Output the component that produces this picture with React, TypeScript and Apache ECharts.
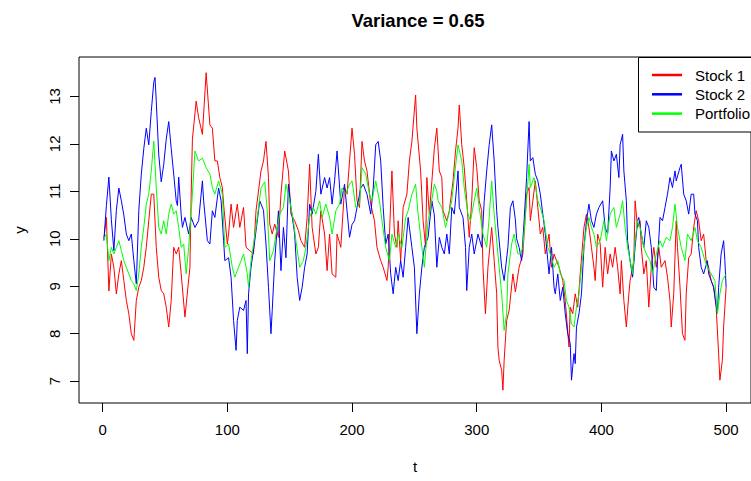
import React, { useEffect, useRef } from "react";
import * as echarts from "echarts";

const xTicks = [0, 100, 200, 300, 400, 500];
const yTicks = [7, 8, 9, 10, 11, 12, 13];

const stock1T = [1,3,5,7,9,11,13,15,17,19,21,23,25,27,29,31,33,35,37,39,41,43,45,47,49,51,53,55,57,59,61,63,66,70,71,72,75,77,80,83,86,88,90,92,94,96,97,100,101,103,105,108,110,113,115,118,121,123,127,129,131,133,134,136,138,141,143,146,149,151,154,157,159,162,164,166,168,171,173,175,178,180,182,184,187,188,191,194,196,200,202,204,206,208,210,212,215,218,220,223,225,228,229,232,234,236,237,239,241,244,246,248,251,252,255,257,259,260,262,264,266,268,270,272,273,276,278,281,283,285,286,288,290,292,294,296,298,300,302,304,305,307,309,312,314,316,317,318,320,321,322,324,326,329,331,334,337,340,342,343,345,347,349,351,353,355,358,360,362,364,366,369,371,374,375,377,379,381,383,386,388,390,392,394,395,397,399,401,403,405,407,409,411,413,415,416,418,420,422,423,426,427,429,431,432,434,436,438,440,442,444,446,448,451,453,455,456,458,460,461,463,465,467,468,470,472,474,476,478,480,482,484,486,488,490,492,494,495,497,498,500];
const stock1V = [10.0,10.45,8.9,9.68,9.4,8.84,9.26,9.54,9.12,8.7,8.42,8.0,7.86,8.7,8.98,9.12,9.4,9.82,10.38,10.94,10.94,9.82,9.19,8.91,8.84,8.56,8.14,8.7,9.82,9.68,9.82,9.26,8.35,9.4,10.94,12.1,12.9,12.55,12.2,13.5,12.4,12.33,11.64,11.64,11.29,11.08,10.73,9.89,10.1,10.73,10.24,10.73,10.24,10.66,9.82,9.75,9.68,10.59,11.43,11.64,12.05,11.29,10.31,10.1,10.31,10.03,10.94,11.85,11.43,10.52,10.38,10.17,9.96,9.82,10.45,11.57,10.24,9.68,9.82,10.59,10.1,9.33,10.1,9.26,9.19,10.1,9.82,11.08,10.94,12.33,11.78,10.8,10.66,12.05,11.64,11.43,10.73,10.38,9.82,9.54,9.4,9.12,9.4,11.43,10.1,9.82,10.38,9.54,10.66,10.94,11.64,12.05,13.03,12.33,11.43,10.38,9.82,11.29,10.52,11.2,11.9,12.33,11.43,11.29,10.59,10.38,10.59,11.22,11.85,12.33,12.82,11.98,11.5,10.8,10.03,10.8,11.92,11.5,10.8,10.59,9.4,8.42,9.4,10.24,9.54,8.84,7.72,7.44,7.23,6.81,7.44,8.28,8.49,9.26,8.88,9.4,9.68,10.94,11.08,10.38,10.8,11.22,10.66,10.1,10.24,9.68,10.1,9.4,9.68,9.54,9.4,9.12,8.7,7.72,8.56,8.42,8.84,8.56,9.26,10.24,10.52,10.24,9.82,9.4,9.12,10.1,9.9,8.98,9.82,9.26,9.68,9.4,9.82,9.4,8.84,9.54,8.7,8.14,8.84,9.12,9.54,10.8,10.24,10.38,9.82,9.26,9.54,8.56,9.4,9.82,9.4,9.82,9.4,9.54,9.19,8.7,8.14,8.84,10.38,9.82,9.0,8.0,7.86,8.84,9.6,9.68,10.24,10.59,10.38,9.96,10.1,9.54,9.4,9.12,8.98,8.56,7.58,7.02,7.44,8.14,8.98];

const stock2T = [1,3,5,7,9,11,13,15,17,19,21,23,25,27,29,31,33,35,37,39,41,42,43,45,47,49,51,53,55,57,59,60,61,63,64,66,69,71,74,77,80,81,84,86,88,90,93,95,97,98,101,103,105,107,108,110,113,115,116,117,119,122,126,129,131,133,135,136,138,141,143,145,147,149,151,154,156,158,160,162,164,166,168,171,173,175,178,180,182,184,186,188,191,194,196,198,200,202,204,207,209,212,215,217,219,221,223,225,227,229,231,233,235,237,239,241,243,245,248,250,252,254,256,258,261,264,266,268,270,272,274,276,278,280,282,285,286,289,291,292,294,296,298,301,304,306,308,310,312,314,316,317,320,322,325,327,329,331,332,334,336,338,340,342,343,345,347,349,351,353,355,357,358,360,362,363,365,367,369,371,373,375,376,378,379,380,382,384,386,388,390,392,394,396,398,401,403,405,407,408,410,412,414,415,417,418,420,421,423,425,427,429,430,432,434,436,438,440,442,444,445,447,449,451,453,455,457,459,460,463,464,466,468,470,472,474,475,477,478,480,482,485,486,488,490,493,494,496,498,499,500];
const stock2V = [9.96,10.7,11.3,10.4,9.75,10.6,11.07,10.8,10.5,10.1,9.96,10.1,9.54,9.05,10.6,11.36,11.9,12.33,11.98,12.68,13.3,13.4,12.9,11.77,11.2,11.57,12.1,12.47,11.9,11.36,10.8,10.7,11.3,10.5,10.24,10.45,10.1,10.45,10.24,10.38,11.22,10.8,9.96,9.89,10.59,10.45,11.07,10.8,9.96,9.54,9.6,9.19,8.28,7.65,8.28,8.56,8.49,8.7,7.58,8.84,9.4,9.96,10.8,10.6,9.89,8.98,8.0,8.49,9.54,10.59,9.33,10.24,9.6,11.15,10.66,10.1,9.19,8.7,8.98,9.4,9.68,10.73,10.52,11.0,11.78,10.94,11.29,11.07,11.29,10.73,11.22,11.85,10.73,11.15,10.59,10.03,10.3,10.38,10.66,11.07,11.15,10.94,10.52,11.07,11.98,12.05,11.64,10.66,9.89,10.1,9.26,8.84,9.4,9.12,9.54,9.19,9.82,10.45,9.82,9.4,8.0,8.84,9.4,9.82,10.03,10.8,10.5,9.4,10.03,9.82,9.68,10.1,9.68,10.66,10.52,11.43,10.66,10.45,9.82,8.91,9.82,10.1,9.68,10.1,9.82,10.8,11.43,11.98,12.4,11.64,10.59,10.24,9.4,9.12,9.82,10.66,10.8,10.4,10.0,9.82,9.54,10.38,11.29,12.47,11.64,11.71,11.36,11.22,10.94,10.52,10.1,9.54,9.26,9.82,8.98,8.84,9.26,8.7,8.98,8.42,8.0,7.79,7.02,7.58,7.37,8.14,8.42,8.84,9.82,10.38,10.73,10.38,10.24,10.52,10.66,10.8,10.24,10.1,11.07,11.85,11.64,11.78,11.29,11.98,12.2,11.43,10.8,9.96,9.54,9.19,9.82,10.38,10.45,10.1,9.82,10.38,10.24,9.82,8.98,8.91,9.54,10.45,10.38,10.66,10.94,11.29,11.08,11.43,11.22,11.5,11.57,10.94,10.8,10.52,10.94,10.94,10.52,10.38,9.82,9.4,9.26,9.54,9.26,9.12,8.98,8.42,8.98,9.68,9.96,9.54,8.98];

const portfolioT = [1,3,5,7,9,11,13,15,17,19,21,23,25,27,29,31,33,35,37,39,41,43,45,47,49,51,53,55,57,59,61,63,65,67,69,72,74,77,80,83,86,88,90,93,96,98,101,104,106,109,113,116,117,119,123,127,130,132,134,137,139,142,145,147,150,153,155,158,161,163,166,169,171,174,176,179,182,184,187,190,192,195,198,200,203,206,208,211,214,216,219,222,224,227,230,232,235,237,240,243,245,248,251,253,256,258,261,263,266,268,269,272,275,277,280,282,285,288,290,293,295,298,300,302,305,308,310,312,314,317,320,322,324,325,328,330,333,335,337,340,342,343,346,349,351,354,357,359,362,365,367,370,372,374,376,378,380,382,384,386,388,390,392,394,396,399,402,404,407,410,412,415,417,419,421,423,425,427,429,431,434,436,439,441,444,447,449,452,455,457,459,461,463,464,467,469,472,475,477,480,483,485,488,491,493,495,497,500];
const portfolioV = [10.0,10.1,9.54,9.82,9.68,9.82,9.96,9.75,9.54,9.4,9.26,9.12,9.05,8.91,9.26,9.82,10.24,10.73,10.94,11.43,12.06,11.08,10.24,10.1,10.38,10.1,10.52,10.73,10.52,10.59,10.24,9.82,9.89,9.26,9.82,10.94,11.85,11.64,11.7,11.5,11.36,11.08,10.94,11.22,10.94,9.82,9.89,9.4,9.19,9.4,9.68,9.26,8.98,9.54,10.24,11.07,11.2,10.59,9.54,9.75,10.1,10.52,10.66,11.15,10.8,10.38,9.96,9.4,9.54,9.82,10.45,10.66,10.52,10.8,10.45,10.73,10.45,10.1,10.59,10.73,11.07,10.94,11.15,11.22,10.66,10.73,11.5,11.36,10.94,10.8,11.22,10.8,10.38,9.82,9.54,10.1,9.82,10.1,9.82,10.45,10.59,10.94,11.15,10.52,9.82,9.4,10.38,10.66,11.15,11.0,10.8,10.66,10.24,10.45,10.8,11.29,11.98,11.64,11.07,10.52,10.38,10.8,11.07,10.66,10.1,9.82,10.45,11.22,10.52,9.68,8.84,8.07,8.42,9.26,9.89,10.1,9.68,9.68,9.82,10.8,11.57,11.08,11.29,10.8,10.66,10.38,9.82,9.68,9.4,9.54,9.26,9.12,8.7,8.56,8.21,8.14,8.56,8.84,9.4,9.82,10.24,10.45,10.24,10.1,9.82,9.96,10.38,9.96,10.52,10.66,10.24,10.52,10.8,10.24,9.82,9.54,9.26,9.96,10.38,10.24,9.82,9.68,9.54,9.26,9.68,9.96,9.82,10.03,9.96,10.24,10.73,10.24,9.96,9.82,9.54,10.1,9.96,10.24,9.96,9.82,9.54,9.4,9.26,9.12,8.42,8.84,9.12,9.26];

const seriesNames = ["Stock 1", "Stock 2", "Portfolio"];
const seriesColors = ["#ff0000", "#0000ff", "#00ff00"];

const FONT = "'Liberation Sans', Arial, sans-serif";

function pairs(t: number[], v: number[]) {
  return t.map((x, i) => [x, v[i]]);
}

export default function App() {
  const ref = useRef<HTMLDivElement>(null);
  useEffect(() => {
    if (!ref.current) return;
    const chart = echarts.init(ref.current, undefined, { renderer: "svg" });
    const gridLeft = 79;
    const gridTop = 57;
    const gridWidth = 678;
    const gridHeight = 346;
    const legendX = 638;
    const legendY = 57;
    const legendItems: any[] = [];
    seriesNames.forEach((name, i) => {
      const y = 75 + i * 19.3;
      legendItems.push({
        type: "line",
        z: 101,
        shape: { x1: 652, y1: y, x2: 682, y2: y },
        style: { stroke: seriesColors[i], lineWidth: 2.5 },
      });
      legendItems.push({
        type: "text",
        z: 101,
        x: 695,
        y: y,
        style: {
          text: name,
          font: `15px ${FONT}`,
          fill: "#000",
          textVerticalAlign: "middle",
          verticalAlign: "middle",
        },
      });
    });
    const option: any = {
      animation: false,
      backgroundColor: "#ffffff",
      grid: {
        left: gridLeft,
        top: gridTop,
        width: gridWidth,
        height: gridHeight,
        show: true,
        borderColor: "#000",
        borderWidth: 1,
        backgroundColor: "transparent",
      },
      xAxis: {
        type: "value",
        min: -18.96,
        max: 519.96,
        name: "t",
        nameLocation: "middle",
        nameGap: 56,
        nameTextStyle: { fontFamily: FONT, fontSize: 15, color: "#000" },
        axisLine: { show: false, onZero: false },
        splitLine: { show: false },
        axisTick: {
          show: true,
          inside: false,
          length: 9,
          customValues: xTicks,
          lineStyle: { color: "#000", width: 1 },
        },
        axisLabel: {
          customValues: xTicks,
          margin: 19,
          fontFamily: FONT,
          fontSize: 15,
          color: "#000",
        },
      },
      yAxis: {
        type: "value",
        min: 6.54,
        max: 13.83,
        name: "y",
        nameLocation: "middle",
        nameGap: 52,
        nameTextStyle: { fontFamily: FONT, fontSize: 15, color: "#000" },
        axisLine: { show: false, onZero: false },
        splitLine: { show: false },
        axisTick: {
          show: true,
          inside: false,
          length: 9,
          customValues: yTicks,
          lineStyle: { color: "#000", width: 1 },
        },
        axisLabel: {
          customValues: yTicks,
          rotate: 90,
          margin: 17,
          fontFamily: FONT,
          fontSize: 15,
          color: "#000",
        },
      },
      series: seriesNames.map((name, i) => ({
        name,
        type: "line",
        data: pairs(
          [stock1T, stock2T, portfolioT][i],
          [stock1V, stock2V, portfolioV][i]
        ),
        showSymbol: false,
        symbol: "none",
        lineStyle: { color: seriesColors[i], width: 1 },
        itemStyle: { color: seriesColors[i] },
        z: 2 + i,
      })),
      graphic: [
        {
          type: "text",
          z: 100,
          x: gridLeft + gridWidth / 2,
          y: 20,
          style: {
            text: "Variance = 0.65",
            font: `bold 18.5px ${FONT}`,
            fill: "#000",
            textAlign: "center",
            align: "center",
            textVerticalAlign: "middle",
            verticalAlign: "middle",
          },
        },
        {
          type: "rect",
          z: 100,
          shape: { x: legendX + 0.5, y: legendY + 0.5, width: 140, height: 74.5 },
          style: { fill: "#ffffff", stroke: "#000", lineWidth: 1 },
        },
        ...legendItems,
      ],
    };
    chart.setOption(option);
    return () => chart.dispose();
  }, []);
  return (
    <div
      ref={ref}
      style={{ position: "fixed", left: 0, top: 0, width: 751, height: 481 }}
    />
  );
}
